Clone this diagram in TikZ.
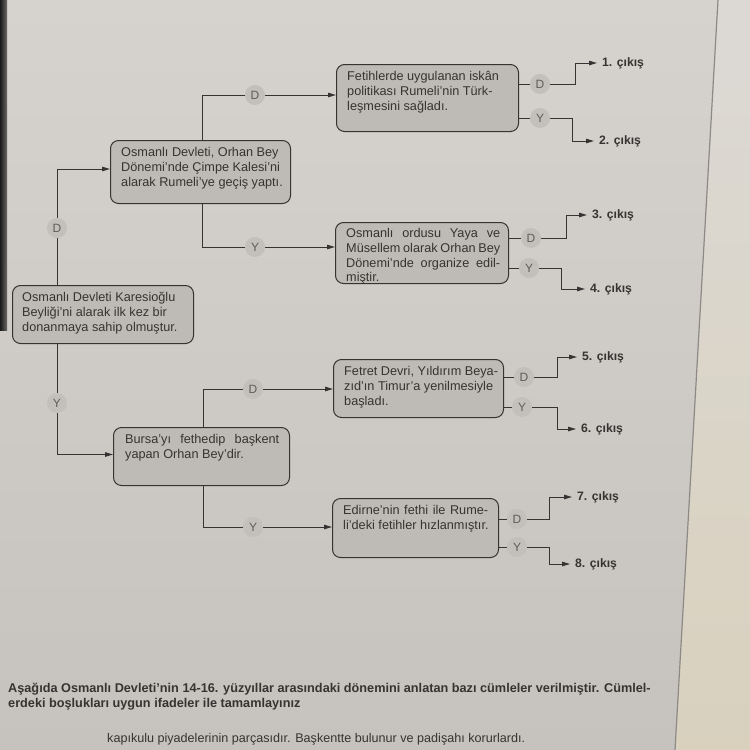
\documentclass[tikz,border=0pt]{standalone}
\usepackage{fontspec}
\setmainfont{Liberation Sans}
\usetikzlibrary{arrows.meta}
\definecolor{bgtop}{HTML}{D6D3CF}
\definecolor{bgbot}{HTML}{C6C2BD}
\definecolor{boxfill}{HTML}{BEBAB5}
\definecolor{circfill}{HTML}{C3BFBA}
\definecolor{ink}{HTML}{363432}
\definecolor{pageline}{HTML}{8C8986}
\definecolor{pageright}{HTML}{DCD9D5}
\definecolor{beige}{HTML}{D9D1BE}
\newcommand{\jl}[2]{\makebox[#1][s]{#2}}
\begin{document}
\begin{tikzpicture}[x=1pt,y=-1pt,
  box/.style={draw=ink, line width=1pt, rounded corners=8pt, fill=boxfill, inner sep=0pt, anchor=north west},
  txt/.style={font=\fontsize{12.7}{14.8}\selectfont, text=ink, align=left, inner sep=0pt, anchor=north west},
  yn/.style={circle, fill=circfill, minimum size=20pt, inner sep=0pt, font=\fontsize{12}{13}\selectfont, text=ink!80},
  conn/.style={draw=ink, line width=1pt},
  arr/.style={conn, -{Triangle[length=8pt,width=4.5pt]}},
  outlbl/.style={font=\bfseries\fontsize{12.2}{13}\selectfont, text=ink, anchor=west, inner xsep=5pt, inner ysep=1pt},
  qtxt/.style={text=ink, anchor=west, inner sep=0pt}
]
\useasboundingbox (0,0) rectangle (750,750);
% background
\shade[top color=bgtop, bottom color=bgbot] (0,0) rectangle (750,750);
\shade[top color=pageright, bottom color=beige] (718,0) -- (750,0) -- (750,750) -- (675,750) -- cycle;
\draw[pageline, line width=1.2pt] (718,0) -- (675,750);
\shade[left color=black!90, right color=bgtop!50!black] (0,0) rectangle (7,330);

% boxes
\node[box, minimum width=181pt, minimum height=58pt] (A) at (12,285) {};
\node[box, minimum width=180pt, minimum height=63pt] (B) at (110,140) {};
\node[box, minimum width=176pt, minimum height=58pt] (C) at (113,427) {};
\node[box, minimum width=182pt, minimum height=67pt] (b1) at (336,64) {};
\node[box, minimum width=173pt, minimum height=61pt] (b2) at (335,222) {};
\node[box, minimum width=170pt, minimum height=58pt] (b3) at (333,359) {};
\node[box, minimum width=166pt, minimum height=59pt] (b4) at (332,498) {};

% box texts
\node[txt] (At) at ([shift={(10,7)}]A.north west) {Osmanlı Devleti Karesioğlu\\Beyliği’ni alarak ilk kez bir\\donanmaya sahip olmuştur.};
\node[txt] (Bt) at ([shift={(11,7)}]B.north west) {Osmanlı Devleti, Orhan Bey\\Dönemi’nde Çimpe Kalesi’ni\\alarak Rumeli’ye geçiş yaptı.};
\node[txt] (Ct) at ([shift={(12,7)}]C.north west) {\jl{154pt}{Bursa’yı fethedip başkent}\\yapan Orhan Bey’dir.};
\node[txt] (b1t) at ([shift={(11,7)}]b1.north west) {Fetihlerde uygulanan iskân\\politikası Rumeli’nin Türk-\\leşmesini sağladı.};
\node[txt] (b2t) at ([shift={(11,6)}]b2.north west) {\jl{154pt}{Osmanlı ordusu Yaya ve}\\\jl{154pt}{Müsellem olarak Orhan Bey}\\\jl{154pt}{Dönemi’nde organize edil-}\\miştir.};
\node[txt] (b3t) at ([shift={(11,7)}]b3.north west) {Fetret Devri, Yıldırım Beya-\\zıd’ın Timur’a yenilmesiyle\\başladı.};
\node[txt] (b4t) at ([shift={(11,7)}]b4.north west) {\jl{145pt}{Edirne’nin fethi ile Rume-}\\li’deki fetihler hızlanmıştır.};

% first level
\node[yn] (dA) at (57,228) {D};
\node[yn] (yA) at (57,403) {Y};
\draw[conn] (A.north -| dA) -- (dA);
\draw[arr] (dA) |- ([yshift=3pt]B.west);
\draw[conn] (A.south -| yA) -- (yA);
\draw[arr] (yA) |- ([yshift=2pt]C.west);

% second level
\coordinate (xB) at (202,0);
\coordinate (xC) at (203,0);
\node[yn] (dB) at (255,95) {D};
\node[yn] (yB) at (255,247) {Y};
\node[yn] (dC) at (253,389) {D};
\node[yn] (yC) at (253,527) {Y};
\draw[conn] (B.north -| xB) |- (dB);
\draw[arr] (dB) -- (dB -| b1.west);
\draw[conn] (B.south -| xB) |- (yB);
\draw[arr] (yB) -- (yB -| b2.west);
\draw[conn] (C.north -| xC) |- (dC);
\draw[arr] (dC) -- (dC -| b3.west);
\draw[conn] (C.south -| xC) |- (yC);
\draw[arr] (yC) -- (yC -| b4.west);

% outputs
\node[yn] (d1) at (540,84) {D};
\node[yn] (y1) at (540,118) {Y};
\node[yn] (d2) at (531,238) {D};
\node[yn] (y2) at (529,268) {Y};
\node[yn] (d3) at (524,377) {D};
\node[yn] (y3) at (522,407) {Y};
\node[yn] (d4) at (517,519) {D};
\node[yn] (y4) at (517,547) {Y};

\node[outlbl] (o1) at (597,63) {1. çıkış};
\node[outlbl] (o2) at (594,141) {2. çıkış};
\node[outlbl] (o3) at (587,215) {3. çıkış};
\node[outlbl] (o4) at (585,289) {4. çıkış};
\node[outlbl] (o5) at (577,357) {5. çıkış};
\node[outlbl] (o6) at (576,429) {6. çıkış};
\node[outlbl] (o7) at (572,497) {7. çıkış};
\node[outlbl] (o8) at (570,564) {8. çıkış};

\coordinate (t1) at (575,0);
\coordinate (t2) at (572,0);
\coordinate (t3) at (566,0);
\coordinate (t4) at (561,0);
\coordinate (t5) at (557,0);
\coordinate (t6) at (557,0);
\coordinate (t7) at (549,0);
\coordinate (t8) at (549,0);

\draw[conn] (b1.east |- d1) -- (d1);
\draw[conn] (b1.east |- y1) -- (y1);
\draw[conn] (b2.east |- d2) -- (d2);
\draw[conn] (b2.east |- y2) -- (y2);
\draw[conn] (b3.east |- d3) -- (d3);
\draw[conn] (b3.east |- y3) -- (y3);
\draw[conn] (b4.east |- d4) -- (d4);
\draw[conn] (b4.east |- y4) -- (y4);

\draw[arr] (d1) -| (t1 |- o1.west) -- (o1.west);
\draw[arr] (y1) -| (t2 |- o2.west) -- (o2.west);
\draw[arr] (d2) -| (t3 |- o3.west) -- (o3.west);
\draw[arr] (y2) -| (t4 |- o4.west) -- (o4.west);
\draw[arr] (d3) -| (t5 |- o5.west) -- (o5.west);
\draw[arr] (y3) -| (t6 |- o6.west) -- (o6.west);
\draw[arr] (d4) -| (t7 |- o7.west) -- (o7.west);
\draw[arr] (y4) -| (t8 |- o8.west) -- (o8.west);

% bottom text
\node[qtxt, font=\bfseries\fontsize{12.7}{13}\selectfont] (q1) at (8,689) {Aşağıda Osmanlı Devleti’nin 14-16. yüzyıllar arasındaki dönemini anlatan bazı cümleler verilmiştir. Cümlel-};
\node[qtxt, font=\bfseries\fontsize{12.7}{13}\selectfont] (q2) at (8,704) {erdeki boşlukları uygun ifadeler ile tamamlayınız};
\node[qtxt, font=\fontsize{12.6}{13}\selectfont] (q3) at (107,739) {kapıkulu piyadelerinin parçasıdır. Başkentte bulunur ve padişahı korurlardı.};
\end{tikzpicture}
\end{document}
